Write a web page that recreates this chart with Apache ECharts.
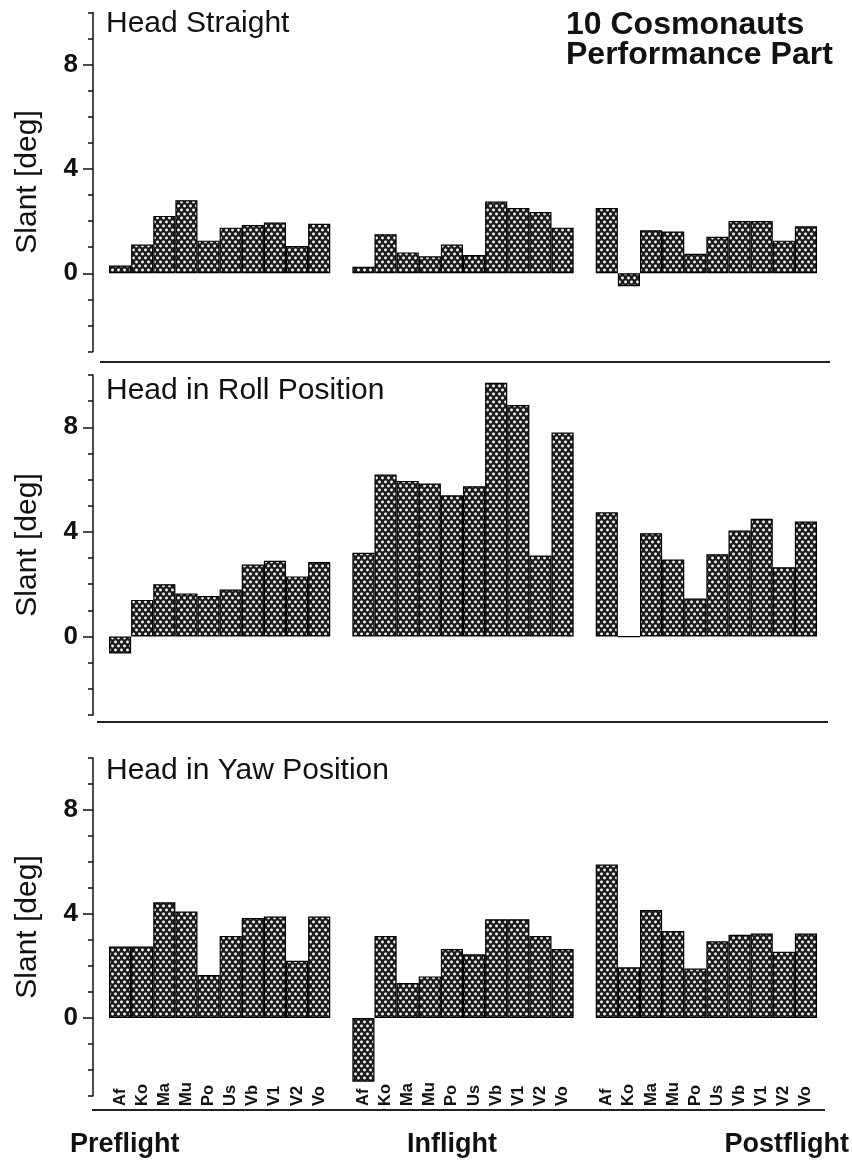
<!DOCTYPE html>
<html>
<head>
<meta charset="utf-8">
<script src="https://cdn.jsdelivr.net/npm/echarts@6/dist/echarts.min.js"></script>
<style>
html,body{margin:0;padding:0;background:#fff;}
#chart{width:852px;height:1162px;}
</style>
</head>
<body>
<div id="chart"></div>
<script>
// ---- data ----
const cosmonauts = ['Af','Ko','Ma','Mu','Po','Us','Vb','V1','V2','Vo'];
const phases = ['Preflight','Inflight','Postflight'];
const panelTitles = ['Head Straight','Head in Roll Position','Head in Yaw Position'];
const mainTitle = ['10 Cosmonauts','Performance Part'];
const yAxisName = 'Slant [deg]';
const yTickLabels = [0,4,8];

const straightPre  = [0.3, 1.1, 2.2, 2.8, 1.25, 1.75, 1.85, 1.95, 1.05, 1.9];
const straightIn   = [0.25, 1.5, 0.8, 0.65, 1.1, 0.7, 2.75, 2.5, 2.35, 1.75];
const straightPost = [2.5, -0.5, 1.65, 1.6, 0.75, 1.4, 2.0, 2.0, 1.25, 1.8];

const rollPre  = [-0.65, 1.4, 2.0, 1.65, 1.55, 1.8, 2.75, 2.9, 2.3, 2.85];
const rollIn   = [3.2, 6.2, 5.95, 5.85, 5.4, 5.75, 9.7, 8.85, 3.1, 7.8];
const rollPost = [4.75, 0, 3.95, 2.95, 1.45, 3.15, 4.05, 4.5, 2.65, 4.4];

const yawPre  = [2.75, 2.75, 4.45, 4.1, 1.65, 3.15, 3.85, 3.9, 2.2, 3.9];
const yawIn   = [-2.45, 3.15, 1.35, 1.6, 2.65, 2.45, 3.8, 3.8, 3.15, 2.65];
const yawPost = [5.9, 1.95, 4.15, 3.35, 1.9, 2.95, 3.2, 3.25, 2.55, 3.25];

const panels = [
  [straightPre, straightIn, straightPost],
  [rollPre, rollIn, rollPost],
  [yawPre, yawIn, yawPost]
];

// ---- build ----
const FONT = '"Liberation Sans", Arial, Helvetica, sans-serif';
const categories = [];
phases.forEach((p, i) => {
  cosmonauts.forEach(c => categories.push(c));
  if (i < phases.length - 1) categories.push('');
});
function seriesData(groups) {
  const out = [];
  groups.forEach((g, i) => {
    g.forEach(v => out.push(v));
    if (i < groups.length - 1) out.push('-');
  });
  return out;
}

// hatch pattern
const pc = document.createElement('canvas');
pc.width = 6; pc.height = 8;
const ctx = pc.getContext('2d');
ctx.fillStyle = '#1c1c1c';
ctx.fillRect(0, 0, 6, 8);
ctx.fillStyle = '#f4f4f4';
[[1.5, 2], [4.5, 6]].forEach(([x, y]) => {
  ctx.beginPath(); ctx.arc(x, y, 1.45, 0, Math.PI * 2); ctx.fill();
});

const grids = [
  {left: 109, width: 708, top: 12.5, height: 339},
  {left: 109, width: 708, top: 375, height: 340},
  {left: 109, width: 708, top: 758, height: 338}
];
const titleTops = [8.8, 376, 756];

const xAxes = [], yAxes = [], series = [], titles = [];
grids.forEach((g, i) => {
  xAxes.push({
    type: 'category', gridIndex: i, data: categories,
    axisLine: {show: false}, axisTick: {show: false},
    axisLabel: i === 2 ? {
      show: true, interval: 0, rotate: 90, align: 'left', verticalAlign: 'middle',
      margin: 10, fontSize: 16.5, fontWeight: 'bold', color: '#111', fontFamily: FONT
    } : {show: false},
    splitLine: {show: false}
  });
  yAxes.push({
    type: 'value', gridIndex: i, min: -3, max: 10, interval: 1, position: 'left', offset: 16,
    name: yAxisName, nameLocation: 'middle', nameGap: 50, nameRotate: 90,
    nameTextStyle: {fontSize: 30, color: '#111', fontFamily: FONT},
    axisLine: {show: true, lineStyle: {color: '#111', width: 1.5}},
    axisTick: {show: true, length: 5, lineStyle: {color: '#111', width: 1.5}},
    axisLabel: {
      show: true, margin: 15, fontSize: 26, fontWeight: 'bold', color: '#111', fontFamily: FONT,
      formatter: v => (yTickLabels.indexOf(v) >= 0 ? String(v) : '')
    },
    splitLine: {show: false}
  });
  yAxes.push({
    type: 'value', gridIndex: i, min: -3, max: 10, interval: 1, position: 'left', offset: 16,
    axisLine: {show: false},
    axisTick: {show: true, length: 10, customValues: yTickLabels, lineStyle: {color: '#111', width: 1.5}},
    axisLabel: {show: false},
    splitLine: {show: false}
  });
  series.push({
    type: 'bar', xAxisIndex: i, yAxisIndex: i * 2,
    data: seriesData(panels[i]),
    barCategoryGap: '0%',
    itemStyle: {color: {image: pc, repeat: 'repeat'}, borderColor: '#000', borderWidth: 1.2},
    silent: true, animation: false
  });
  titles.push({
    text: panelTitles[i], left: 106, top: titleTops[i],
    textStyle: {fontSize: 30, fontWeight: 'normal', color: '#111', fontFamily: FONT}
  });
});

titles.push({
  text: mainTitle.join('\n'), left: 566, top: 10.6,
  textStyle: {fontSize: 32, fontWeight: 'bold', color: '#111', fontFamily: FONT, lineHeight: 30}
});
titles.push({text: phases[0], left: 70, top: 1131,
  textStyle: {fontSize: 27, fontWeight: 'bold', color: '#111', fontFamily: FONT}});
titles.push({text: phases[1], left: 407, top: 1131,
  textStyle: {fontSize: 27, fontWeight: 'bold', color: '#111', fontFamily: FONT}});
titles.push({text: phases[2], right: 3, top: 1131,
  textStyle: {fontSize: 27, fontWeight: 'bold', color: '#111', fontFamily: FONT}});
titles.forEach(t => { t.padding = 0; });

const chart = echarts.init(document.getElementById('chart'), null, {renderer: 'canvas'});
chart.setOption({
  animation: false,
  backgroundColor: '#ffffff',
  title: titles,
  grid: grids,
  xAxis: xAxes,
  yAxis: yAxes,
  series: series,
  graphic: [
    {type: 'line', shape: {x1: 100, y1: 362, x2: 830, y2: 362}, style: {stroke: '#222', lineWidth: 2}},
    {type: 'line', shape: {x1: 97, y1: 722, x2: 828, y2: 722}, style: {stroke: '#222', lineWidth: 2}},
    {type: 'line', shape: {x1: 92, y1: 1110, x2: 825, y2: 1110}, style: {stroke: '#222', lineWidth: 2}}
  ]
});
</script>
</body>
</html>
